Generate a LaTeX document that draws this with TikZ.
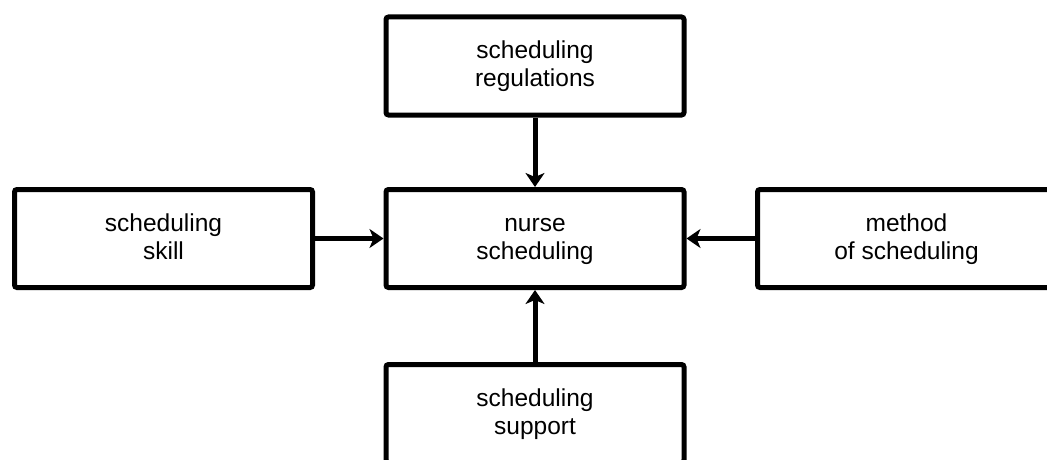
\documentclass[tikz,border=0pt]{standalone}
\usepackage{fontspec}
\setmainfont{Liberation Sans}
\usepackage{tikz}
\usetikzlibrary{arrows.meta}
\newcommand\boxstrut{\rule[-5pt]{0pt}{24pt}}
\tikzset{
  factorbox/.style={draw=drawColor,line width=5pt,rounded corners=2.5pt,fill=white,
    minimum width=298pt,minimum height=98pt,inner sep=0pt,align=center,
    font=\fontsize{24.5}{28}\selectfont},
  feed/.style={draw=drawColor,line width=5pt,-{Stealth[length=14pt,width=19pt,inset=4pt]}}
}
\begin{document}
\begin{tikzpicture}[x=1pt,y=1pt]
\definecolor{drawColor}{RGB}{0,0,0}
\path[use as bounding box,fill=white] (0,0) rectangle (1047,459);
\clip (0,0) rectangle (1047,459);

\node[factorbox] (nurse) at (535.0,220.5) {\boxstrut nurse\\\boxstrut scheduling};
\node[factorbox] (regulations) at (535.0,393.0) {\boxstrut scheduling\\\boxstrut regulations};
\node[factorbox] (skill) at (163.5,220.5) {\boxstrut scheduling\\\boxstrut skill};
\node[factorbox] (method) at (906.5,220.5) {\boxstrut method\\\boxstrut of scheduling};
\node[factorbox] (support) at (535.0,45.5) {\boxstrut scheduling\\\boxstrut support};

\draw[feed] (regulations) -- (nurse);
\draw[feed] (skill) -- (nurse);
\draw[feed] (method) -- (nurse);
\draw[feed] (support) -- (nurse);
\end{tikzpicture}
\end{document}
